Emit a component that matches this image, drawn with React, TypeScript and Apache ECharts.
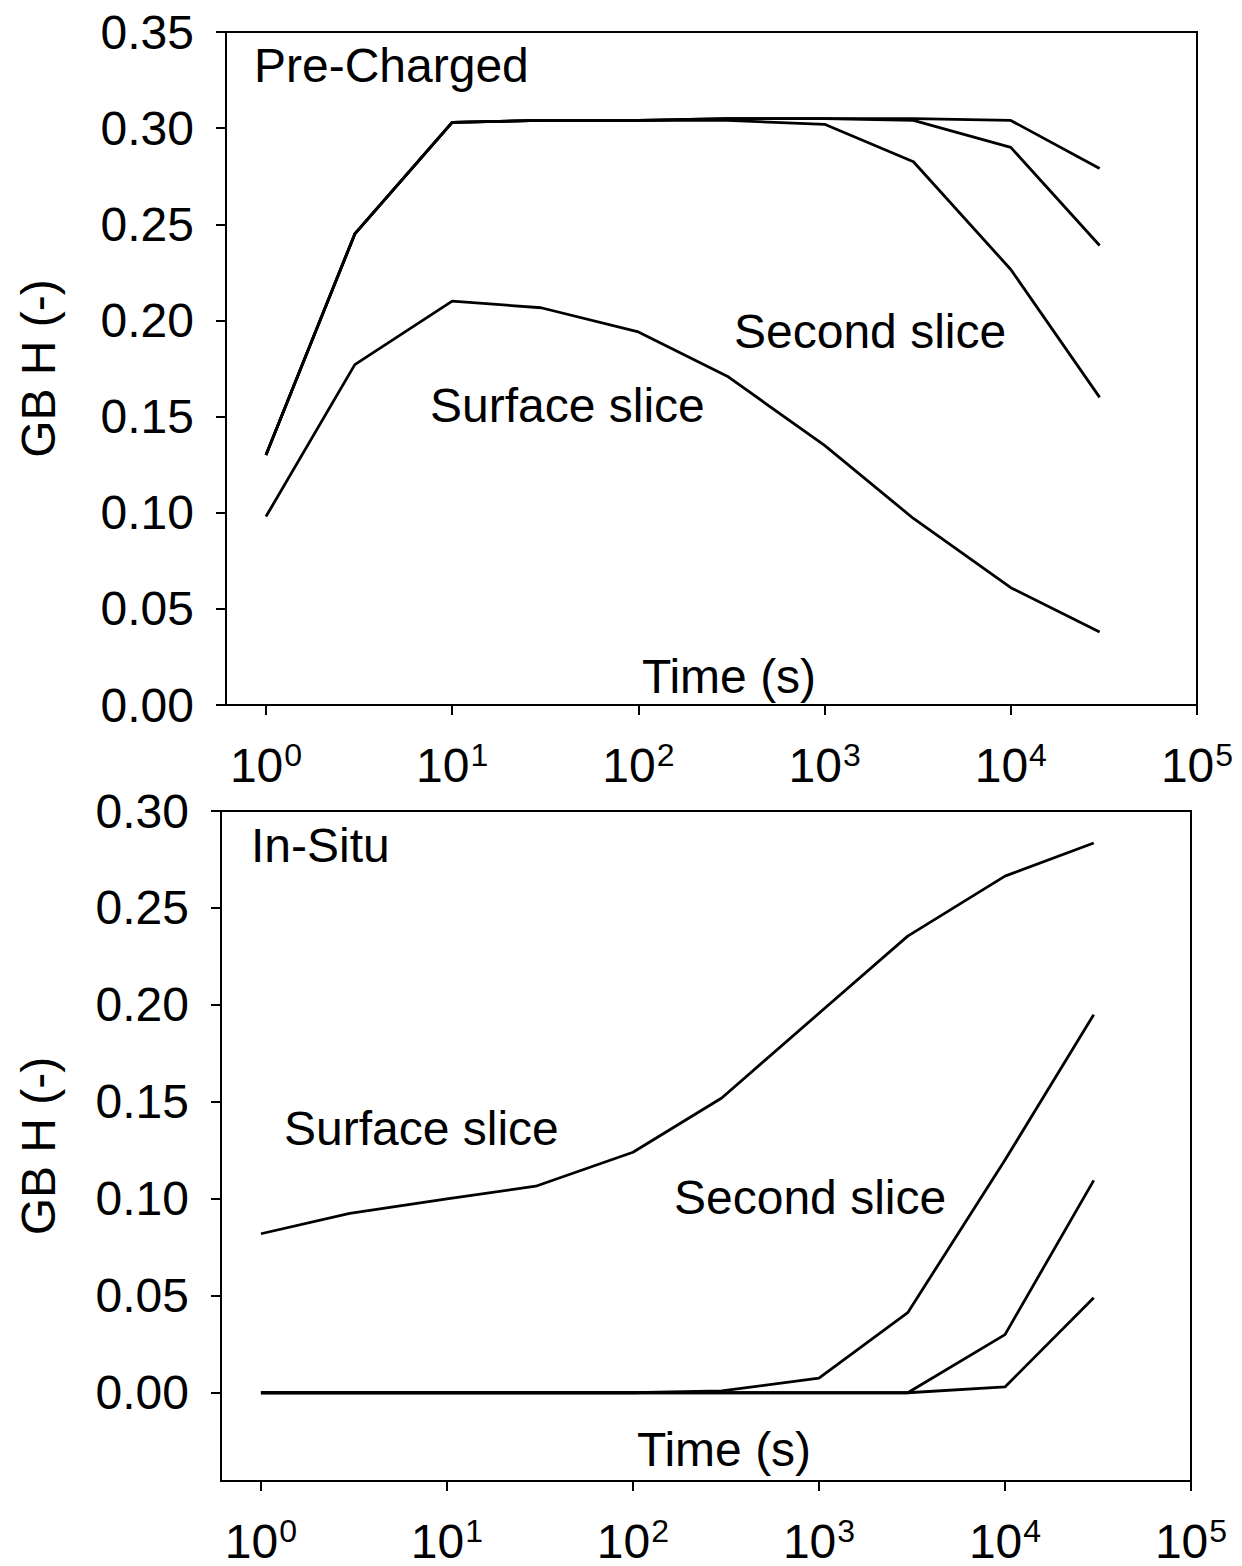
import React, { useEffect, useRef } from "react";
import * as echarts from "echarts";

const FONT = "'Liberation Sans', Arial, Helvetica, sans-serif";

const times = [1, 3, 10, 30, 100, 300, 1000, 3000, 10000, 30000];
const xTicks = [1, 10, 100, 1000, 10000, 100000];

// Pre-Charged panel
const preSurface = [0.098, 0.177, 0.210, 0.2066, 0.194, 0.171, 0.135, 0.097, 0.061, 0.038];
const preSlice2 = [0.130, 0.245, 0.303, 0.304, 0.304, 0.304, 0.302, 0.2825, 0.2265, 0.160];
const preSlice3 = [0.130, 0.245, 0.303, 0.304, 0.304, 0.305, 0.305, 0.304, 0.290, 0.239];
const preSlice4 = [0.130, 0.245, 0.303, 0.304, 0.304, 0.305, 0.305, 0.305, 0.304, 0.279];
const preYTicks = [0, 0.05, 0.1, 0.15, 0.2, 0.25, 0.3, 0.35];

// In-Situ panel
const inSurface = [0.082, 0.0925, 0.100, 0.1065, 0.124, 0.152, 0.1957, 0.2355, 0.2664, 0.2835];
const inSlice2 = [0, 0, 0, 0, 0, 0.001, 0.0075, 0.0413, 0.120, 0.195];
const inSlice3 = [0, 0, 0, 0, 0, 0, 0, 0, 0.030, 0.1095];
const inSlice4 = [0, 0, 0, 0, 0, 0, 0, 0, 0.003, 0.049];
const inYTicks = [0, 0.05, 0.1, 0.15, 0.2, 0.25, 0.3];

const TXT = 48;

function pairs(vals: number[]) {
  return times.map((t, i) => [t, vals[i]]);
}

function xAxis(gridIndex: number) {
  return {
    type: "log",
    logBase: 10,
    gridIndex,
    min: 0.61,
    max: 100000,
    axisLine: { show: true, onZero: false, lineStyle: { color: "#000", width: 2 } },
    axisTick: { show: true, inside: false, length: 10, lineStyle: { color: "#000", width: 2 }, customValues: xTicks },
    minorTick: { show: false },
    splitLine: { show: false },
    axisLabel: {
      customValues: xTicks,
      margin: 34,
      formatter: (v: number) => `{b|10}{s|${Math.round(Math.log10(v))}}`,
      rich: {
        b: { fontSize: TXT, fontFamily: FONT, color: "#000", lineHeight: 52 },
        s: { fontSize: 32, fontFamily: FONT, color: "#000", lineHeight: 28, verticalAlign: "top", padding: [0, 0, 0, 1] },
      },
    },
  };
}

function yAxis(gridIndex: number, min: number, max: number, ticks: number[], nameGap: number) {
  return {
    type: "value",
    gridIndex,
    min,
    max,
    name: "GB H (-)",
    nameLocation: "middle",
    nameGap,
    nameRotate: 90,
    nameTextStyle: { fontSize: TXT, fontFamily: FONT, color: "#000" },
    axisLine: { show: true, onZero: false, lineStyle: { color: "#000", width: 2 } },
    axisTick: { show: true, inside: false, length: 10, lineStyle: { color: "#000", width: 2 }, customValues: ticks },
    splitLine: { show: false },
    axisLabel: {
      customValues: ticks,
      margin: 32,
      fontSize: TXT,
      fontFamily: FONT,
      color: "#000",
      formatter: (v: number) => v.toFixed(2),
    },
  };
}

function line(vals: number[], idx: number) {
  return {
    type: "line",
    xAxisIndex: idx,
    yAxisIndex: idx,
    data: pairs(vals),
    symbol: "none",
    lineStyle: { color: "#000", width: 2.8 },
    z: 3,
  };
}

function label(text: string, x: number, y: number, align = "left") {
  return {
    type: "text",
    x,
    y,
    z: 10,
    style: {
      text,
      font: `${TXT}px ${FONT}`,
      fill: "#000",
      textAlign: align,
      textVerticalAlign: "middle",
    },
  };
}

export default function App() {
  const ref = useRef<HTMLDivElement>(null);
  useEffect(() => {
    if (!ref.current) return;
    const chart = echarts.init(ref.current, null, { renderer: "svg" });
    chart.setOption({
      animation: false,
      backgroundColor: "#fff",
      grid: [
        { left: 226, top: 32, width: 971, height: 673, show: true, borderColor: "#000", borderWidth: 2, backgroundColor: "transparent" },
        { left: 221, top: 811, width: 970, height: 670, show: true, borderColor: "#000", borderWidth: 2, backgroundColor: "transparent" },
      ],
      xAxis: [xAxis(0), xAxis(1)],
      yAxis: [yAxis(0, 0, 0.35, preYTicks, 164), yAxis(1, -0.0455, 0.3, inYTicks, 159)],
      series: [
        line(preSurface, 0),
        line(preSlice2, 0),
        line(preSlice3, 0),
        line(preSlice4, 0),
        line(inSurface, 1),
        line(inSlice2, 1),
        line(inSlice3, 1),
        line(inSlice4, 1),
      ],
      graphic: [
        label("Pre-Charged", 254, 65),
        label("Second slice", 734, 331),
        label("Surface slice", 430, 405),
        label("Time (s)", 729, 676, "center"),
        label("In-Situ", 251, 845),
        label("Surface slice", 284, 1128),
        label("Second slice", 674, 1197),
        label("Time (s)", 724, 1449, "center"),
      ],
    });
    return () => chart.dispose();
  }, []);
  return (
    <div
      ref={ref}
      style={{ position: "absolute", left: 0, top: 0, width: 1242, height: 1566, background: "#fff" }}
    />
  );
}
